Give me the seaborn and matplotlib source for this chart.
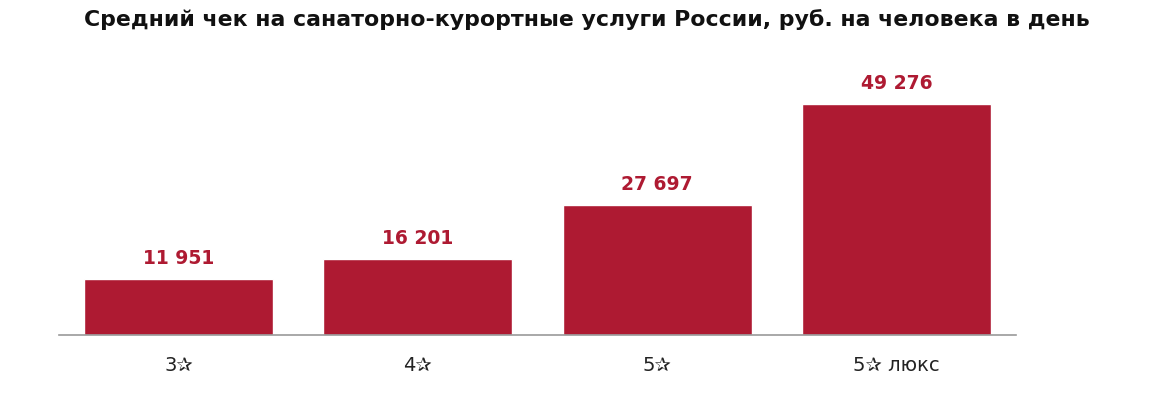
import matplotlib
matplotlib.use("Agg")
import matplotlib.pyplot as plt
import seaborn as sns
import pandas as pd

categories = ["3✰", "4✰", "5✰", "5✰ люкс"]
values = [11951, 16201, 27697, 49276]
value_labels = ["11 951", "16 201", "27 697", "49 276"]

sns.set_theme(style="white")
plt.rcParams['font.family'] = ['DejaVu Sans']

df = pd.DataFrame({"cat": categories, "val": values})
fig = plt.figure(figsize=(11.62, 3.95), dpi=100)
ax = fig.add_axes([59/1162, 1-335/395, (1016-59)/1162, (335-60)/395])
sns.barplot(data=df, x="cat", y="val", color="#AE1A32", width=0.79, saturation=1, ax=ax)
ax.set_xlim(-0.5, 3.5)
ax.set_ylim(0, 58660)
for i, (v, lab) in enumerate(zip(values, value_labels)):
    ax.text(i, v + 2300, lab, ha="center", va="bottom", color="#AE1A32",
            fontsize=13.5, fontweight="bold")
for s in ["top", "right", "left"]:
    ax.spines[s].set_visible(False)
ax.spines["bottom"].set_color("#9a9a9a")
ax.spines["bottom"].set_linewidth(1.2)
ax.set_yticks([])
ax.set_xlabel("")
ax.set_ylabel("")
ax.tick_params(axis="x", length=0, pad=15, labelsize=14, labelcolor="#222222")
fig.text(587/1162, 1-20/395, "Средний чек на санаторно-курортные услуги России, руб. на человека в день",
         ha="center", va="center", fontsize=15.8, fontweight="bold", color="#111111")
fig.savefig("out.png", dpi=100)
